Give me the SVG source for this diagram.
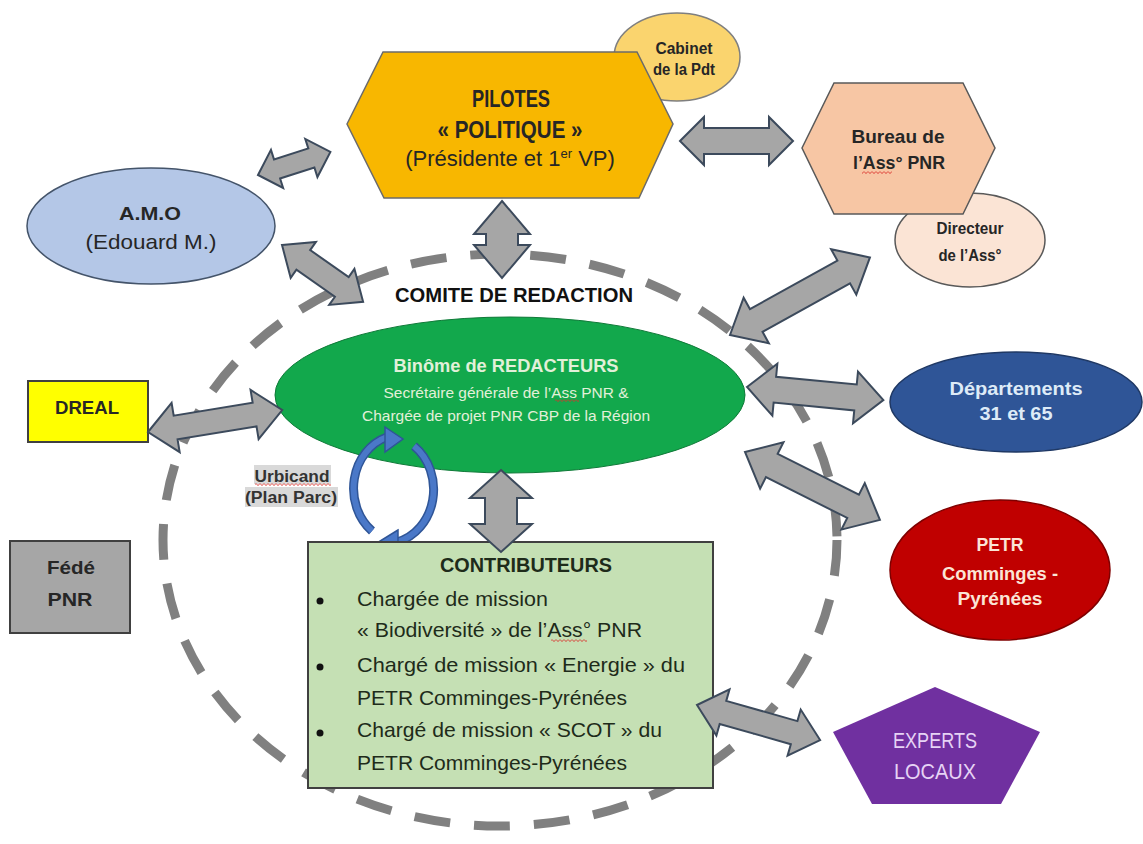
<svg xmlns="http://www.w3.org/2000/svg" width="1143" height="844" viewBox="0 0 1143 844">
<defs>
<style>
text{font-family:"Liberation Sans",Arial,sans-serif;}
.b{font-weight:bold;}
.c{text-anchor:middle;}
.arr{fill:#A6A6A6;stroke:#3C4A5C;stroke-width:2;stroke-linejoin:miter;}
.dark{fill:#262626;}
</style>
<pattern id="wave" width="4" height="3" patternUnits="userSpaceOnUse"><path d="M0,0.4 L2,2.6 L4,0.4" stroke="#D9302A" stroke-width="0.9" fill="none"/></pattern>
</defs>
<rect width="1143" height="844" fill="#FFFFFF"/>

<g id="comite">
<ellipse cx="500" cy="540" rx="337" ry="286" fill="none" stroke="#808080" stroke-width="9" stroke-dasharray="36 24"/>
<text x="514" y="302" class="b c" font-size="21" fill="#111" textLength="238" lengthAdjust="spacingAndGlyphs">COMITE DE REDACTION</text>
</g>

<g id="cabinet">
<ellipse cx="677" cy="57" rx="63" ry="44" fill="#FAD46E" stroke="#7F7F7F" stroke-width="1.5"/>
<text x="684" y="54" class="b c dark" font-size="16" textLength="57" lengthAdjust="spacingAndGlyphs">Cabinet</text>
<text x="684" y="75" class="b c dark" font-size="16" textLength="62" lengthAdjust="spacingAndGlyphs">de la Pdt</text>
</g>

<g id="pilotes">
<polygon points="347,124 383,52 637,52 673,124 639,198 384,198" fill="#F8B700" stroke="#6B6B6B" stroke-width="1.5"/>
<text x="511" y="107" class="b c dark" font-size="23" textLength="78" lengthAdjust="spacingAndGlyphs">PILOTES</text>
<text x="510" y="138" class="b c dark" font-size="23" textLength="145" lengthAdjust="spacingAndGlyphs">« POLITIQUE »</text>
<text x="510" y="166" class="c dark" font-size="22">(Présidente et 1<tspan dy="-8" font-size="13">er</tspan><tspan dy="8"> VP)</tspan></text>
</g>

<g id="directeur">
<ellipse cx="970" cy="240" rx="75" ry="47" fill="#FBE4D5" stroke="#595959" stroke-width="1.5"/>
<text x="970" y="234" class="b c dark" font-size="16" textLength="67" lengthAdjust="spacingAndGlyphs">Directeur</text>
<text x="970" y="261" class="b c dark" font-size="16" textLength="63" lengthAdjust="spacingAndGlyphs">de l’Ass°</text>
</g>

<g id="bureau">
<polygon points="802,148 834,83 963,83 995,148 963,214 834,214" fill="#F7C6A4" stroke="#595959" stroke-width="1.5"/>
<text x="898" y="143" class="b c dark" font-size="19" textLength="93" lengthAdjust="spacingAndGlyphs">Bureau de</text>
<text x="899" y="169" class="b c dark" font-size="19" textLength="92" lengthAdjust="spacingAndGlyphs">l’Ass° PNR</text>
<rect x="862" y="171" width="30" height="3" fill="url(#wave)"/>
</g>

<g id="amo">
<ellipse cx="151" cy="226" rx="124" ry="58" fill="#B4C7E7" stroke="#44546A" stroke-width="1.5"/>
<text x="150" y="220" class="b c dark" font-size="18" textLength="62" lengthAdjust="spacingAndGlyphs">A.M.O</text>
<text x="151" y="249" class="c dark" font-size="21" textLength="131" lengthAdjust="spacingAndGlyphs">(Edouard M.)</text>
</g>

<g id="dreal">
<rect x="28" y="381" width="120" height="61" fill="#FFFF00" stroke="#404040" stroke-width="2"/>
<text x="87" y="414" class="b c dark" font-size="19" textLength="64" lengthAdjust="spacingAndGlyphs">DREAL</text>
</g>

<g id="fede">
<rect x="10" y="541" width="120" height="92" fill="#A6A6A6" stroke="#404040" stroke-width="2"/>
<text x="71" y="574" class="b c dark" font-size="19" textLength="48" lengthAdjust="spacingAndGlyphs">Fédé</text>
<text x="70" y="606" class="b c dark" font-size="19" textLength="45" lengthAdjust="spacingAndGlyphs">PNR</text>
</g>

<g id="binome">
<ellipse cx="510" cy="395" rx="235" ry="78" fill="#12A84C" stroke="#0F7A38" stroke-width="1"/>
<text x="506" y="372" class="b c" fill="#E2F0D9" font-size="18" textLength="225" lengthAdjust="spacingAndGlyphs">Binôme de REDACTEURS</text>
<text x="506" y="398" class="c" fill="#E2F0D9" font-size="14.5" textLength="245" lengthAdjust="spacingAndGlyphs">Secrétaire générale de l’Ass PNR &amp;</text>
<text x="506" y="421" class="c" fill="#E2F0D9" font-size="14.5" textLength="288" lengthAdjust="spacingAndGlyphs">Chargée de projet PNR CBP de la Région</text>
<rect x="555" y="399" width="24" height="3" fill="url(#wave)"/>
</g>

<g id="urbicand">
<rect x="254" y="465" width="77" height="19" fill="#D9D9D9"/>
<rect x="245" y="487" width="93" height="20" fill="#D9D9D9"/>
<text x="292" y="482" class="b c" fill="#333" font-size="16" textLength="75" lengthAdjust="spacingAndGlyphs">Urbicand</text>
<text x="291" y="503" class="b c" fill="#333" font-size="16" textLength="92" lengthAdjust="spacingAndGlyphs">(Plan Parc)</text>
<rect x="255" y="483" width="76" height="3" fill="url(#wave)"/>
</g>

<g id="cycle">
<path d="M372,531 A48,54 0 0 1 387,437" fill="none" stroke="#2F5597" stroke-width="9"/>
<path d="M372,531 A48,54 0 0 1 387,437" fill="none" stroke="#4A78C8" stroke-width="6"/>
<polygon points="385,427 403,439 385,452" fill="#4A78C8" stroke="#2F5597" stroke-width="1.5"/>
<path d="M414,446 A48,54 0 0 1 397,542" fill="none" stroke="#2F5597" stroke-width="9"/>
<path d="M414,446 A48,54 0 0 1 397,542" fill="none" stroke="#4A78C8" stroke-width="6"/>
<polygon points="398,530 380,541 398,553" fill="#4A78C8" stroke="#2F5597" stroke-width="1.5"/>
</g>

<g id="contributeurs">
<rect x="308" y="542" width="405" height="246" fill="#C5E0B4" stroke="#404040" stroke-width="2"/>
<text x="526" y="572" class="b c" fill="#1E2B1A" font-size="21" textLength="172" lengthAdjust="spacingAndGlyphs">CONTRIBUTEURS</text>
<circle cx="320" cy="601" r="3.5" fill="#111"/>
<circle cx="320" cy="667" r="3.5" fill="#111"/>
<circle cx="320" cy="733" r="3.5" fill="#111"/>
<g fill="#1E2B1A" font-size="21">
<text x="357" y="606" textLength="191" lengthAdjust="spacingAndGlyphs">Chargée de mission</text>
<text x="357" y="637" textLength="285" lengthAdjust="spacingAndGlyphs">« Biodiversité » de l’Ass° PNR</text>
<text x="357" y="672" textLength="328" lengthAdjust="spacingAndGlyphs">Chargé de mission « Energie » du</text>
<text x="357" y="705" textLength="270" lengthAdjust="spacingAndGlyphs">PETR Comminges-Pyrénées</text>
<text x="357" y="737" textLength="305" lengthAdjust="spacingAndGlyphs">Chargé de mission « SCOT » du</text>
<text x="357" y="770" textLength="270" lengthAdjust="spacingAndGlyphs">PETR Comminges-Pyrénées</text>
</g>
<rect x="551" y="639" width="36" height="3" fill="url(#wave)"/>
</g>

<g id="departements">
<ellipse cx="1016" cy="402" rx="126" ry="50" fill="#2F5597" stroke="#1F3864" stroke-width="1.5"/>
<text x="1016" y="395" class="b c" fill="#DEEBF7" font-size="18.5" textLength="133" lengthAdjust="spacingAndGlyphs">Départements</text>
<text x="1016" y="420" class="b c" fill="#DEEBF7" font-size="18.5" textLength="73" lengthAdjust="spacingAndGlyphs">31 et 65</text>
</g>

<g id="petr">
<ellipse cx="1000" cy="570" rx="110" ry="70" fill="#C00000" stroke="#7F0000" stroke-width="1.5"/>
<text x="1000" y="551" class="b c" fill="#FBE5D6" font-size="18" textLength="47" lengthAdjust="spacingAndGlyphs">PETR</text>
<text x="1000" y="580" class="b c" fill="#FBE5D6" font-size="18" textLength="116" lengthAdjust="spacingAndGlyphs">Comminges -</text>
<text x="1000" y="605" class="b c" fill="#FBE5D6" font-size="18" textLength="85" lengthAdjust="spacingAndGlyphs">Pyrénées</text>
</g>

<g id="experts">
<polygon points="935,687 1040,732 1001,804 872,804 833,732" fill="#7030A0"/>
<text x="935" y="748" class="c" fill="#E6D3F5" font-size="22" textLength="84" lengthAdjust="spacingAndGlyphs">EXPERTS</text>
<text x="935" y="779" class="c" fill="#E6D3F5" font-size="22" textLength="82" lengthAdjust="spacingAndGlyphs">LOCAUX</text>
</g>

<g id="connectors">
<polygon class="arr" transform="translate(680,141)" points="0,0 24,-24 24,-13 89,-13 89,-24 113,0 89,24 89,13 24,13 24,24"/>
<polygon class="arr" transform="translate(258,175) rotate(-17.7)" points="0,0 20,-20 20,-10 56,-10 56,-20 76,0 56,20 56,10 20,10 20,20"/>
<polygon class="arr" transform="translate(282,245) rotate(35)" points="0,0 26,-22 26,-12 73,-12 73,-22 99,0 73,22 73,12 26,12 26,22"/>
<polygon class="arr" transform="translate(502,201) rotate(90)" points="0,0 33,-28 33,-16 44,-16 44,-28 77,0 44,28 44,16 33,16 33,28"/>
<polygon class="arr" transform="translate(148,432) rotate(-9.3)" points="0,0 28,-25 28,-12 108,-12 108,-25 136,0 108,25 108,12 28,12 28,25"/>
<polygon class="arr" transform="translate(730,335) rotate(-29)" points="0,0 30,-26 30,-13 130,-13 130,-26 160,0 130,26 130,13 30,13 30,26"/>
<polygon class="arr" transform="translate(747,387) rotate(5.5)" points="0,0 28,-26 28,-13 109,-13 109,-26 137,0 109,26 109,13 28,13 28,26"/>
<polygon class="arr" transform="translate(745,452) rotate(26.7)" points="0,0 30,-26 30,-13 121,-13 121,-26 151,0 121,26 121,13 30,13 30,26"/>
<polygon class="arr" transform="translate(501,470) rotate(90)" points="0,0 28,-31 28,-16 54,-16 54,-31 82,0 54,31 54,16 28,16 28,31"/>
<polygon class="arr" transform="translate(697,705) rotate(15.9)" points="0,0 27,-24 27,-12 101,-12 101,-24 128,0 101,24 101,12 27,12 27,24"/>
</g>
</svg>
